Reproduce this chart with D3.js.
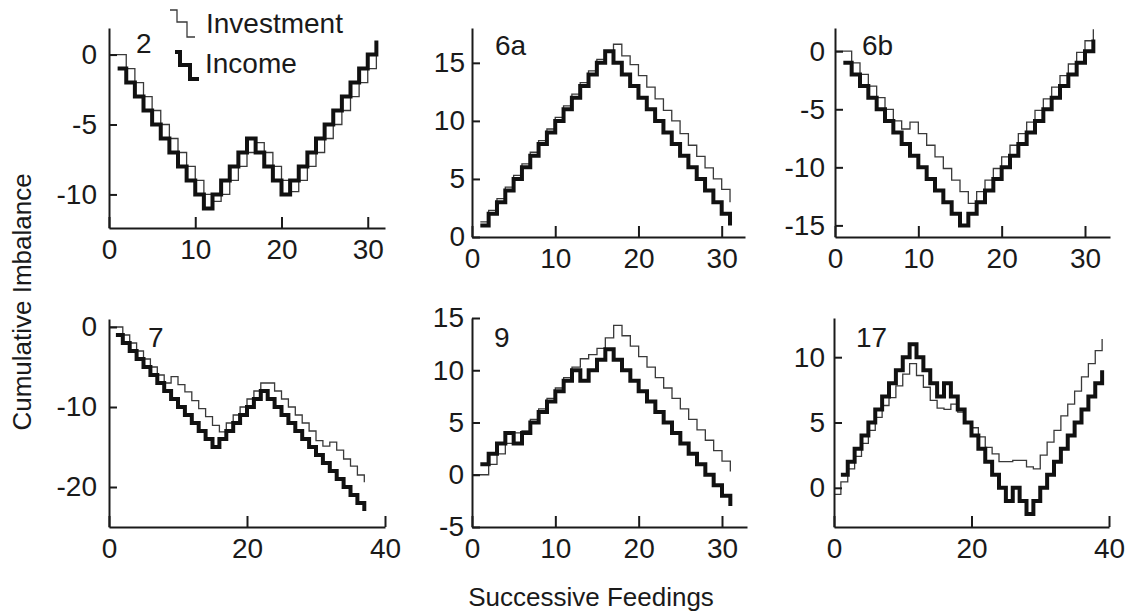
<!DOCTYPE html>
<html>
<head>
<meta charset="utf-8">
<script src="https://cdn.jsdelivr.net/npm/d3@7"></script>
<style>
  body { margin: 0; background: #fff; }
  text { font-family: "Liberation Sans", Arial, sans-serif; fill: #1a1a1a; }
</style>
</head>
<body>
<script>
const width = 1140;
const height = 616;

// income: one value per feeding, starting at feeding 1
// invest: one value per feeding, starting at feeding 0 (6a starts at 1)
const income2 = [-1,-2,-3,-4,-5,-6,-7,-8,-9,-10,-11,-10,-9,-8,-7,-6,-7,-8,-9,-10,-9,-8,-7,-6,-5,-4,-3,-2,-1,0,1];
const invest2 = [0,0,-1,-2,-3,-4,-5,-6,-7,-8,-9,-10,-10.5,-10,-9,-8,-7,-6.3,-7,-8,-9,-9.8,-9,-8,-7,-6,-5,-4,-3,-2,-1,0];

const income6a = [1,2,3,4,5,6,7,8,9,10,11,12,13,14,15,16,15,14,13,12,11,10,9,8,7,6,5,4,3,2,1];
const invest6a = [1.3,2.3,3.3,4.3,5.3,6.3,7.3,8.3,9.3,10.3,11.3,12.3,13.3,14.3,15.3,15.9,16.6,15.6,14.85,13.9,12.9,11.9,10.9,10,8.9,7.9,6.95,5.95,5,4.1,3];

const income6b = [-1,-2,-3,-4,-5,-6,-7,-8,-9,-10,-11,-12,-13,-14,-15,-14,-13,-12,-11,-10,-9,-8,-7,-6,-5,-4,-3,-2,-1,0,1];
const invest6b = [0,0,-1,-2,-3,-4,-5,-6,-6.7,-6.1,-7.1,-8.1,-9.1,-10.1,-11.1,-12.1,-13.1,-12.1,-11.1,-10.1,-9.1,-8.1,-7.1,-6.1,-5.1,-4.1,-3.1,-2.1,-1.1,-0.1,0.9,1.9];

const income7 = [-1,-2,-3,-4,-5,-6,-7,-8,-9,-10,-11,-12,-13,-14,-15,-14,-13,-12,-11,-10,-9,-8,-9,-10,-11,-12,-13,-14,-15,-16,-17,-18,-19,-20,-21,-22,-23];
const invest7 = [0,0,-1,-2,-3,-4,-5,-6,-7,-6.2,-7.2,-8.1,-9.2,-10.2,-11.2,-12.3,-13.1,-12,-11,-10,-9,-8,-7,-7,-8,-9,-10,-11,-12,-13,-14.2,-14.9,-14.4,-15.4,-16.5,-17.4,-18.5,-19.4];

const income9 = [1,2,3,4,3,4,5,6,7,8,9,10,9,10,11,12,11,10,9,8,7,6,5,4,3,2,1,0,-1,-2,-3];
const invest9 = [0,0,1,2,3,4,4.2,5.3,6.3,7.3,8.3,9.3,10.3,11.1,11.5,12.1,13.1,14.3,13.3,12.3,11.3,10.3,9.3,8.3,7.3,6.3,5.3,4.3,3.3,2.3,1.3,0.3];

const income17 = [1,2,3,4,5,6,7,8,9,10,11,10,9,8,7,8,7,6,5,4,3,2,1,0,-1,0,-1,-2,-1,0,1,2,3,4,5,6,7,8,9];
const invest17 = [-0.5,0.45,1.45,2.4,3.4,4.4,5.4,6.3,6.9,7.8,8.7,9.5,8.6,7.7,6.7,6.1,6,6.4,5.8,5,4.6,3.9,3.1,2.6,2,2,2.1,2.1,1.6,1.45,2.5,3.5,4.4,5.5,6.4,7.4,8.5,9.5,10.5,11.4];

const panelLabels = ["2", "6a", "6b", "7", "9", "17"];
const xTicks31 = [0, 10, 20, 30];
const xTicks40 = [0, 20, 40];
const yTicks2 = [0, -5, -10];
const yTicks6a = [0, 5, 10, 15];
const yTicks6b = [0, -5, -10, -15];
const yTicks7 = [0, -10, -20];
const yTicks9 = [-5, 0, 5, 10, 15];
const yTicks17 = [0, 5, 10];

// layout of the six small plots (pixel boxes and axis extents)
const panels = [
  {label: panelLabels[0], income: income2, invest: invest2, investFrom: 0, xMax: 32, yDom: [-12.4, 1.9], xt: xTicks31, yt: yTicks2, box: [109, 28, 385, 228], lab: [136, 53], pad: 12},
  {label: panelLabels[1], income: income6a, invest: invest6a, investFrom: 1, xMax: 32.8, yDom: [0, 18], xt: xTicks31, yt: yTicks6a, box: [472, 28, 745, 237], lab: [495, 55], pad: 7},
  {label: panelLabels[2], income: income6b, invest: invest6b, investFrom: 0, xMax: 33, yDom: [-16, 2], xt: xTicks31, yt: yTicks6b, box: [835, 28, 1110, 237], lab: [862, 55], pad: 10},
  {label: panelLabels[3], income: income7, invest: invest7, investFrom: 0, xMax: 40, yDom: [-25, 1], xt: xTicks40, yt: yTicks7, box: [109, 319, 385, 527], lab: [148, 347], pad: 12},
  {label: panelLabels[4], income: income9, invest: invest9, investFrom: 0, xMax: 33, yDom: [-5, 15], xt: xTicks31, yt: yTicks9, box: [472, 318, 747, 527], lab: [494, 347], pad: 8},
  {label: panelLabels[5], income: income17, invest: invest17, investFrom: 0, xMax: 40, yDom: [-3, 13], xt: xTicks40, yt: yTicks17, box: [834, 318, 1109, 527], lab: [856, 347], pad: 9}
];

const ink = "#1a1a1a";
const tickFont = 28;
const titleFont = 26;

const svg = d3.select("body").append("svg")
  .attr("width", width)
  .attr("height", height);

panels.forEach(p => {
  const [left, top, right, bottom] = p.box;
  const x = d3.scaleLinear().domain([0, p.xMax]).range([left, right]);
  const y = d3.scaleLinear().domain(p.yDom).range([bottom, top]);
  const line = d3.line()
    .x(d => x(d[0]))
    .y(d => y(d[1]))
    .curve(d3.curveStepAfter);

  const g = svg.append("g");

  g.append("path")
    .datum(p.invest.map((v, i) => [i + p.investFrom, v]))
    .attr("d", line)
    .attr("fill", "none")
    .attr("stroke", "#3a3a3a")
    .attr("stroke-width", 1.3);

  g.append("path")
    .datum(p.income.map((v, i) => [i + 1, v]))
    .attr("d", line)
    .attr("fill", "none")
    .attr("stroke", "#111")
    .attr("stroke-width", 4)
    .attr("stroke-linejoin", "miter");

  const xAxis = g.append("g")
    .attr("transform", `translate(0,${bottom})`)
    .call(d3.axisBottom(x).tickValues(p.xt).tickFormat(d => String(d))
      .tickSizeInner(-11).tickSizeOuter(0).tickPadding(11));
  const yAxis = g.append("g")
    .attr("transform", `translate(${left},0)`)
    .call(d3.axisLeft(y).tickValues(p.yt).tickFormat(d => String(d))
      .tickSizeInner(-8).tickSizeOuter(0).tickPadding(p.pad));

  [xAxis, yAxis].forEach(a => {
    a.attr("font-family", null).attr("font-size", null);
    a.selectAll("path, line").attr("stroke", ink).attr("stroke-width", 2);
    a.selectAll("text").attr("font-size", tickFont).attr("fill", ink);
  });

  g.append("text")
    .attr("x", p.lab[0])
    .attr("y", p.lab[1])
    .attr("font-size", tickFont)
    .text(p.label);
});

// legend in the first plot
const legend = svg.append("g");
const sym = d3.line().curve(d3.curveStepAfter);
legend.append("path")
  .attr("d", sym([[170, 10], [177, 22], [187, 37], [195, 37]]))
  .attr("fill", "none").attr("stroke", "#3a3a3a").attr("stroke-width", 1.3);
legend.append("path")
  .attr("d", sym([[175, 52], [180, 65], [190, 79], [199, 79]]))
  .attr("fill", "none").attr("stroke", "#111").attr("stroke-width", 4);
legend.append("text").attr("x", 206).attr("y", 33).attr("font-size", tickFont).text("Investment");
legend.append("text").attr("x", 205).attr("y", 73).attr("font-size", tickFont).text("Income");

svg.append("text")
  .attr("transform", "translate(31,302) rotate(-90)")
  .attr("text-anchor", "middle")
  .attr("font-size", titleFont)
  .text("Cumulative Imbalance");

svg.append("text")
  .attr("x", 591)
  .attr("y", 606)
  .attr("text-anchor", "middle")
  .attr("font-size", titleFont)
  .text("Successive Feedings");
</script>
</body>
</html>
